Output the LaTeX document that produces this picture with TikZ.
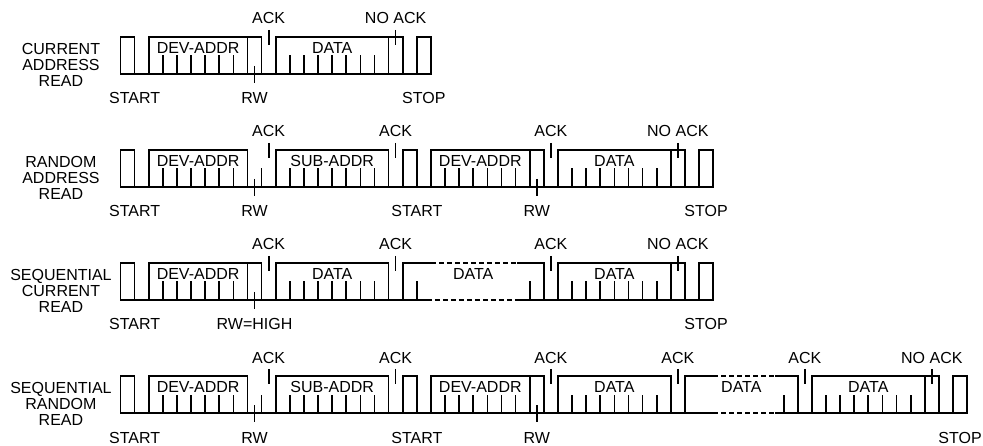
\documentclass[tikz,border=0pt]{standalone}
\usepackage{fontspec}
\setmainfont{Liberation Sans}
\newcommand\lblfont{\fontsize{16}{16}\selectfont}
\tikzset{
  wv/.style={line width=1.7pt, line join=miter, line cap=butt},
  dsh/.style={line width=1.7pt, dash pattern=on 5pt off 3pt},
  tk/.style={line width=1.7pt},
  lb/.style={inner sep=0pt, anchor=base, font=\lblfont},
  rowlbl/.style={inner sep=0pt, anchor=north, align=center, font=\lblfont},
  rowsc/.style={xshift=120.5pt, x=14.11pt}
}
\begin{document}
\begin{tikzpicture}[x=1pt,y=-1pt]
\useasboundingbox (0,0) rectangle (983,446);

% ---------------- Row 1 ----------------
\begin{scope}[rowsc]
\draw[wv] (0,74) -- (0,37) -- (1,37) -- (1,74) -- (2,74) -- (2,37) -- (10,37) -- (10,74) -- (11,74) -- (11,37) -- (20,37) -- (20,74) -- (21,74) -- (21,37) -- (22,37) -- (22,74) -- cycle;
\draw[tk] (9,37) -- (9,74);
\draw[tk] (19,37) -- (19,74);
\foreach \k in {3,4,5,6,7,8,12,13,14,15,16,17,18} \draw[tk] (\k,74) -- (\k,55.5);
\draw[tk] (9.5,66) -- (9.5,83);
\draw[tk] (10.5,30) -- (10.5,45);
\draw[tk] (19.5,30) -- (19.5,45);
\node[lb] (r1dev) at (5.5,53.5) {DEV-ADDR};
\node[lb] (r1data) at (15,53.5) {DATA};
\node[lb] (r1ack) at (10.5,24) {ACK};
\node[lb] (r1nack) at (19.5,24) {NO ACK};
\node[lb] (r1start) at (1,104) {START};
\node[lb] (r1rw) at (9.5,104) {RW};
\node[lb] (r1stop) at (21.5,104) {STOP};
\node[rowlbl] (r1name) at (-4.22,43) {CURRENT\\ADDRESS\\READ};
\end{scope}

% ---------------- Row 2 ----------------
\begin{scope}[rowsc, yshift=-113pt]
\draw[wv] (0,74) -- (0,37) -- (1,37) -- (1,74) -- (2,74) -- (2,37) -- (9,37) -- (9,74) -- (11,74) -- (11,37) -- (19,37) -- (19,74) -- (20,74) -- (20,37) -- (21,37) -- (21,74) -- (22,74) -- (22,37) -- (30,37) -- (30,74) -- (31,74) -- (31,37) -- (40,37) -- (40,74) -- (41,74) -- (41,37) -- (42,37) -- (42,74) -- cycle;
\draw[tk] (29,37) -- (29,74);
\draw[tk] (39,37) -- (39,74);
\foreach \k in {3,4,5,6,7,8,10,12,13,14,15,16,17,18,23,24,25,26,27,28,32,33,34,35,36,37,38} \draw[tk] (\k,74) -- (\k,55.5);
\draw[tk] (9.5,66) -- (9.5,83);
\draw[tk] (29.5,66) -- (29.5,83);
\foreach \k in {10.5,19.5,30.5,39.5} \draw[tk] (\k,30) -- (\k,45);
\node[lb] (r2dev) at (5.5,53.5) {DEV-ADDR};
\node[lb] (r2sub) at (15,53.5) {SUB-ADDR};
\node[lb] (r2devb) at (25.5,53.5) {DEV-ADDR};
\node[lb] (r2data) at (35,53.5) {DATA};
\node[lb] (r2acka) at (10.5,24) {ACK};
\node[lb] (r2ackb) at (19.5,24) {ACK};
\node[lb] (r2ackc) at (30.5,24) {ACK};
\node[lb] (r2nack) at (39.5,24) {NO ACK};
\node[lb] (r2start) at (1,104) {START};
\node[lb] (r2rw) at (9.5,104) {RW};
\node[lb] (r2startb) at (21,104) {START};
\node[lb] (r2rwb) at (29.5,104) {RW};
\node[lb] (r2stop) at (41.5,104) {STOP};
\node[rowlbl] (r2name) at (-4.22,43) {RANDOM\\ADDRESS\\READ};
\end{scope}

% ---------------- Row 3 ----------------
\begin{scope}[rowsc, yshift=-226pt]
\draw[wv] (21.72,74) -- (0,74) -- (0,37) -- (1,37) -- (1,74) -- (2,74) -- (2,37) -- (10,37) -- (10,74) -- (11,74) -- (11,37) -- (19,37) -- (19,74) -- (20,74) -- (20,37) -- (22,37);
\draw[dsh] (22,37) -- (28.1,37);
\draw[dsh] (21.72,74) -- (28.1,74);
\draw[wv] (28.1,37) -- (30,37) -- (30,74) -- (31,74) -- (31,37) -- (40,37) -- (40,74) -- (41,74) -- (41,37) -- (42,37) -- (42,74) -- (28.1,74);
\draw[tk] (9,37) -- (9,74);
\draw[tk] (39,37) -- (39,74);
\foreach \k in {3,4,5,6,7,8,12,13,14,15,16,17,18,21,29,32,33,34,35,36,37,38} \draw[tk] (\k,74) -- (\k,55.5);
\draw[tk] (9.5,66) -- (9.5,83);
\foreach \k in {10.5,19.5,30.5,39.5} \draw[tk] (\k,30) -- (\k,45);
\node[lb] (r3dev) at (5.5,53.5) {DEV-ADDR};
\node[lb] (r3data) at (15,53.5) {DATA};
\node[lb] (r3datab) at (25,53.5) {DATA};
\node[lb] (r3datac) at (35,53.5) {DATA};
\node[lb] (r3acka) at (10.5,24) {ACK};
\node[lb] (r3ackb) at (19.5,24) {ACK};
\node[lb] (r3ackc) at (30.5,24) {ACK};
\node[lb] (r3nack) at (39.5,24) {NO ACK};
\node[lb] (r3start) at (1,104) {START};
\node[lb] (r3rw) at (9.5,104) {RW=HIGH};
\node[lb] (r3stop) at (41.5,104) {STOP};
\node[rowlbl] (r3name) at (-4.22,43) {SEQUENTIAL\\CURRENT\\READ};
\end{scope}

% ---------------- Row 4 ----------------
\begin{scope}[rowsc, yshift=-339pt]
\draw[wv] (42,74) -- (0,74) -- (0,37) -- (1,37) -- (1,74) -- (2,74) -- (2,37) -- (9,37) -- (9,74) -- (11,74) -- (11,37) -- (19,37) -- (19,74) -- (20,74) -- (20,37) -- (21,37) -- (21,74) -- (22,74) -- (22,37) -- (30,37) -- (30,74) -- (31,74) -- (31,37) -- (39,37) -- (39,74) -- (40,74) -- (40,37) -- (42,37);
\draw[dsh] (42,37) -- (46.4,37);
\draw[dsh] (42,74) -- (46.4,74);
\draw[wv] (46.4,37) -- (48,37) -- (48,74) -- (49,74) -- (49,37) -- (58,37) -- (58,74) -- (59,74) -- (59,37) -- (60,37) -- (60,74) -- (46.4,74);
\draw[tk] (29,37) -- (29,74);
\draw[tk] (57,37) -- (57,74);
\foreach \k in {3,4,5,6,7,8,10,12,13,14,15,16,17,18,23,24,25,26,27,28,32,33,34,35,36,37,38,47,50,51,52,53,54,55,56} \draw[tk] (\k,74) -- (\k,55.5);
\draw[tk] (9.5,66) -- (9.5,83);
\draw[tk] (29.5,66) -- (29.5,83);
\foreach \k in {10.5,19.5,30.5,39.5,48.5,57.5} \draw[tk] (\k,30) -- (\k,45);
\node[lb] (r4dev) at (5.5,53.5) {DEV-ADDR};
\node[lb] (r4sub) at (15,53.5) {SUB-ADDR};
\node[lb] (r4devb) at (25.5,53.5) {DEV-ADDR};
\node[lb] (r4data) at (35,53.5) {DATA};
\node[lb] (r4datab) at (44,53.5) {DATA};
\node[lb] (r4datac) at (53,53.5) {DATA};
\node[lb] (r4acka) at (10.5,24) {ACK};
\node[lb] (r4ackb) at (19.5,24) {ACK};
\node[lb] (r4ackc) at (30.5,24) {ACK};
\node[lb] (r4ackd) at (39.5,24) {ACK};
\node[lb] (r4acke) at (48.5,24) {ACK};
\node[lb] (r4nack) at (57.5,24) {NO ACK};
\node[lb] (r4start) at (1,104) {START};
\node[lb] (r4rw) at (9.5,104) {RW};
\node[lb] (r4startb) at (21,104) {START};
\node[lb] (r4rwb) at (29.5,104) {RW};
\node[lb] (r4stop) at (59.5,104) {STOP};
\node[rowlbl] (r4name) at (-4.22,43) {SEQUENTIAL\\RANDOM\\READ};
\end{scope}
\end{tikzpicture}
\end{document}
